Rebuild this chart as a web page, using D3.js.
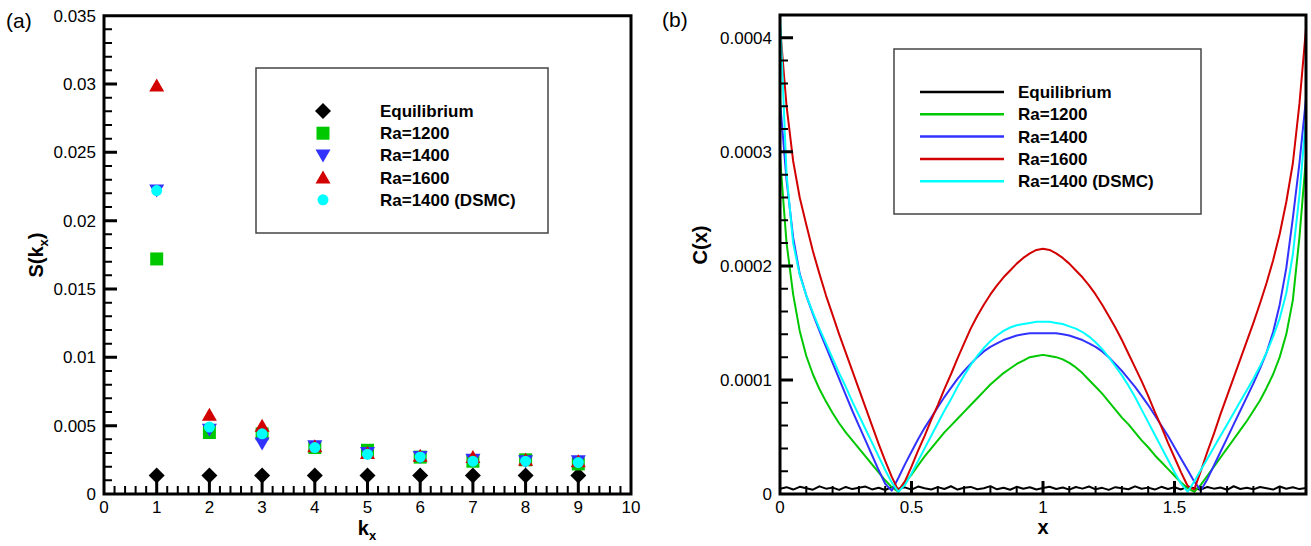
<!DOCTYPE html>
<html><head><meta charset="utf-8">
<script src="https://cdn.jsdelivr.net/npm/d3@7"></script>
<style>
html,body{margin:0;padding:0;background:#fff;}
</style></head>
<body>
<svg id="chart" width="1311" height="546"></svg>
<script>
// ---------- Panel (a) data ----------
const kx = [1, 2, 3, 4, 5, 6, 7, 8, 9];
const sEquilibrium = [0.00135, 0.00135, 0.00135, 0.00135, 0.00135, 0.00135, 0.00135, 0.00135, 0.00135];
const sRa1200 = [0.0172, 0.0045, 0.0044, 0.0034, 0.0032, 0.0027, 0.0024, 0.0025, 0.0022];
const sRa1400 = [0.0222, 0.0047, 0.0037, 0.0035, 0.0030, 0.0027, 0.0025, 0.0024, 0.0024];
const sRa1600 = [0.0299, 0.0058, 0.0050, 0.0035, 0.0030, 0.0028, 0.0027, 0.0025, 0.0024];
const sDSMC   = [0.0222, 0.0049, 0.0044, 0.0034, 0.0029, 0.0027, 0.0024, 0.0024, 0.0023];
const aXTicks = [0,1,2,3,4,5,6,7,8,9,10];
const aXTickLabels = ["0","1","2","3","4","5","6","7","8","9","10"];
const aYTicks = [0, 0.005, 0.01, 0.015, 0.02, 0.025, 0.03, 0.035];
const aYTickLabels = ["0","0.005","0.01","0.015","0.02","0.025","0.03","0.035"];
const legendLabels = ["Equilibrium","Ra=1200","Ra=1400","Ra=1600","Ra=1400 (DSMC)"];

// ---------- Panel (b) data ----------
const xs = [0,0.025,0.05,0.075,0.1,0.125,0.15,0.175,0.2,0.225,0.25,0.275,0.3,0.325,0.35,0.375,0.4,0.425,0.45,0.475,
 0.5,0.525,0.55,0.575,0.6,0.625,0.65,0.675,0.7,0.725,0.75,0.775,0.8,0.825,0.85,0.875,0.9,0.925,0.95,0.975,
 1.0,1.025,1.05,1.075,1.1,1.125,1.15,1.175,1.2,1.225,1.25,1.275,1.3,1.325,1.35,1.375,1.4,1.425,1.45,1.475,
 1.5,1.525,1.55,1.575,1.6,1.625,1.65,1.675,1.7,1.725,1.75,1.775,1.8,1.825,1.85,1.875,1.9,1.925,1.95,1.975,2.0];
const cEquilibrium = [4.6e-6,6.0e-6,3.9e-6,6.3e-6,5.0e-6,3.8e-6,6.7e-6,4.7e-6,5.6e-6,3.6e-6,6.2e-6,4.3e-6,5.4e-6,6.5e-6,4.0e-6,5.5e-6,3.5e-6,6.1e-6,4.7e-6,5.8e-6,
 3.8e-6,6.5e-6,5.1e-6,4.0e-6,6.0e-6,4.4e-6,6.8e-6,3.9e-6,5.4e-6,6.2e-6,4.2e-6,5.0e-6,6.9e-6,4.1e-6,5.5e-6,3.7e-6,6.3e-6,4.6e-6,5.9e-6,4.0e-6,
 5.2e-6,6.4e-6,4.4e-6,5.7e-6,3.8e-6,6.1e-6,4.7e-6,6.6e-6,4.1e-6,5.4e-6,3.6e-6,6.0e-6,5.0e-6,4.2e-6,6.7e-6,4.6e-6,5.6e-6,3.9e-6,6.3e-6,4.4e-6,
 5.9e-6,4.0e-6,6.5e-6,5.1e-6,3.8e-6,6.2e-6,4.7e-6,5.7e-6,3.7e-6,6.8e-6,4.4e-6,5.4e-6,4.1e-6,6.1e-6,5.0e-6,3.9e-6,6.6e-6,4.6e-6,5.9e-6,4.3e-6,5.3e-6];
const cRa1200 = [2.95e-4,2.20e-4,1.75e-4,1.43e-4,1.21e-4,1.05e-4,0.92e-4,0.81e-4,0.71e-4,0.62e-4,0.54e-4,0.47e-4,0.40e-4,0.33e-4,0.26e-4,0.19e-4,0.12e-4,0.06e-4,0.02e-4,0.10e-4,
 0.17e-4,0.25e-4,0.33e-4,0.40e-4,0.47e-4,0.54e-4,0.60e-4,0.66e-4,0.72e-4,0.78e-4,0.84e-4,0.90e-4,0.96e-4,1.01e-4,1.06e-4,1.10e-4,1.14e-4,1.17e-4,1.20e-4,1.21e-4,
 1.22e-4,1.21e-4,1.20e-4,1.18e-4,1.15e-4,1.11e-4,1.06e-4,1.00e-4,0.94e-4,0.88e-4,0.81e-4,0.74e-4,0.67e-4,0.61e-4,0.54e-4,0.47e-4,0.41e-4,0.34e-4,0.28e-4,0.22e-4,
 0.16e-4,0.10e-4,0.05e-4,0.02e-4,0.08e-4,0.16e-4,0.24e-4,0.32e-4,0.40e-4,0.48e-4,0.56e-4,0.64e-4,0.73e-4,0.82e-4,0.93e-4,1.05e-4,1.20e-4,1.40e-4,1.70e-4,2.25e-4,2.95e-4];
const cRa1400 = [3.45e-4,2.75e-4,2.25e-4,1.93e-4,1.74e-4,1.58e-4,1.43e-4,1.29e-4,1.15e-4,1.01e-4,0.87e-4,0.73e-4,0.60e-4,0.47e-4,0.34e-4,0.21e-4,0.09e-4,0.03e-4,0.14e-4,0.26e-4,
 0.37e-4,0.48e-4,0.58e-4,0.67e-4,0.76e-4,0.85e-4,0.93e-4,1.01e-4,1.08e-4,1.14e-4,1.20e-4,1.25e-4,1.29e-4,1.32e-4,1.35e-4,1.37e-4,1.39e-4,1.40e-4,1.41e-4,1.41e-4,
 1.41e-4,1.41e-4,1.41e-4,1.40e-4,1.39e-4,1.37e-4,1.35e-4,1.32e-4,1.29e-4,1.25e-4,1.20e-4,1.14e-4,1.08e-4,1.01e-4,0.94e-4,0.86e-4,0.78e-4,0.69e-4,0.60e-4,0.51e-4,
 0.41e-4,0.31e-4,0.21e-4,0.11e-4,0.03e-4,0.13e-4,0.25e-4,0.37e-4,0.49e-4,0.61e-4,0.73e-4,0.85e-4,0.97e-4,1.10e-4,1.24e-4,1.42e-4,1.66e-4,1.98e-4,2.42e-4,2.90e-4,3.47e-4];
const cRa1600 = [4.10e-4,3.40e-4,2.92e-4,2.60e-4,2.36e-4,2.13e-4,1.93e-4,1.74e-4,1.57e-4,1.40e-4,1.24e-4,1.08e-4,0.92e-4,0.76e-4,0.60e-4,0.44e-4,0.29e-4,0.15e-4,0.03e-4,0.11e-4,
 0.24e-4,0.38e-4,0.51e-4,0.65e-4,0.78e-4,0.92e-4,1.05e-4,1.19e-4,1.32e-4,1.45e-4,1.56e-4,1.66e-4,1.75e-4,1.83e-4,1.90e-4,1.96e-4,2.02e-4,2.07e-4,2.11e-4,2.14e-4,
 2.15e-4,2.14e-4,2.11e-4,2.07e-4,2.02e-4,1.96e-4,1.90e-4,1.83e-4,1.75e-4,1.66e-4,1.56e-4,1.46e-4,1.35e-4,1.23e-4,1.11e-4,0.99e-4,0.86e-4,0.72e-4,0.59e-4,0.45e-4,
 0.32e-4,0.19e-4,0.07e-4,0.04e-4,0.20e-4,0.37e-4,0.53e-4,0.70e-4,0.86e-4,1.02e-4,1.18e-4,1.34e-4,1.50e-4,1.67e-4,1.85e-4,2.05e-4,2.28e-4,2.56e-4,2.90e-4,3.42e-4,4.08e-4];
const cDSMC = [4.20e-4,2.80e-4,2.20e-4,1.92e-4,1.74e-4,1.59e-4,1.45e-4,1.32e-4,1.19e-4,1.06e-4,0.94e-4,0.81e-4,0.69e-4,0.57e-4,0.45e-4,0.33e-4,0.21e-4,0.10e-4,0.02e-4,0.08e-4,
 0.18e-4,0.29e-4,0.40e-4,0.51e-4,0.62e-4,0.73e-4,0.83e-4,0.94e-4,1.04e-4,1.13e-4,1.21e-4,1.28e-4,1.34e-4,1.39e-4,1.43e-4,1.46e-4,1.48e-4,1.49e-4,1.50e-4,1.51e-4,
 1.51e-4,1.51e-4,1.50e-4,1.49e-4,1.47e-4,1.45e-4,1.42e-4,1.38e-4,1.33e-4,1.27e-4,1.20e-4,1.12e-4,1.04e-4,0.95e-4,0.85e-4,0.74e-4,0.63e-4,0.52e-4,0.41e-4,0.30e-4,
 0.19e-4,0.09e-4,0.02e-4,0.11e-4,0.21e-4,0.31e-4,0.41e-4,0.51e-4,0.61e-4,0.71e-4,0.81e-4,0.91e-4,1.01e-4,1.12e-4,1.24e-4,1.38e-4,1.54e-4,1.76e-4,2.10e-4,2.62e-4,3.30e-4];
const bXTicks = [0, 0.5, 1, 1.5];
const bXTickLabels = ["0","0.5","1","1.5"];
const bYTicks = [0, 0.0001, 0.0002, 0.0003, 0.0004];
const bYTickLabels = ["0","0.0001","0.0002","0.0003","0.0004"];
const xAMinor = [0.2,0.4,0.6,0.8,1.2,1.4,1.6,1.8,2.2,2.4,2.6,2.8,3.2,3.4,3.6,3.8,4.2,4.4,4.6,4.8,
  5.2,5.4,5.6,5.8,6.2,6.4,6.6,6.8,7.2,7.4,7.6,7.8,8.2,8.4,8.6,8.8,9.2,9.4,9.6,9.8];
const yAMinor = [0.001,0.002,0.003,0.004,0.006,0.007,0.008,0.009,0.011,0.012,0.013,0.014,0.016,0.017,0.018,0.019,
  0.021,0.022,0.023,0.024,0.026,0.027,0.028,0.029,0.031,0.032,0.033,0.034];
const xBMinor = [0.1,0.2,0.3,0.4,0.6,0.7,0.8,0.9,1.1,1.2,1.3,1.4,1.6,1.7,1.8,1.9];
const yBMinor = [0.00002,0.00004,0.00006,0.00008,0.00012,0.00014,0.00016,0.00018,
  0.00022,0.00024,0.00026,0.00028,0.00032,0.00034,0.00036,0.00038];

const colors = ["#000000", "#00c800", "#3232ff", "#d20000", "#00ffff"];

// ---------- drawing ----------
const svg = d3.select("#chart");
const FONT = "Liberation Sans, Arial, Helvetica, sans-serif";

// frame + major ticks in ONE path; minor ticks in a second path
function drawFrame(g, sx, sy, xMajor, xMinor, yMajor, yMinor, xLabels, yLabels) {
  const X0 = sx.range()[0], X1 = sx.range()[1], Y0 = sy.range()[0], Y1 = sy.range()[1];
  let d = `M${X0},${Y1}H${X1}V${Y0}H${X0}Z`;
  xMajor.forEach(v => { d += `M${sx(v)},${Y0}V${Y0 - 13}`; });
  yMajor.forEach(v => { d += `M${X0},${sy(v)}H${X0 + 13}`; });
  g.append("path").attr("d", d).attr("fill", "none").attr("stroke", "#000").attr("stroke-width", 3);
  let dm = "";
  xMinor.forEach(v => { dm += `M${sx(v)},${Y0}V${Y0 - 8}`; });
  yMinor.forEach(v => { dm += `M${X0},${sy(v)}H${X0 + 8}`; });
  g.append("path").attr("d", dm).attr("fill", "none").attr("stroke", "#000").attr("stroke-width", 2);
  xMajor.forEach((v, i) => {
    g.append("text").attr("x", sx(v)).attr("y", Y0 + 19).attr("text-anchor", "middle")
      .attr("font-size", 17).attr("font-family", FONT).text(xLabels[i]);
  });
  yMajor.forEach((v, i) => {
    g.append("text").attr("x", X0 - 8).attr("y", sy(v) + 6).attr("text-anchor", "end")
      .attr("font-size", 17).attr("font-family", FONT).text(yLabels[i]);
  });
}

// ===== Panel (a) =====
const gA = svg.append("g");
const xA = d3.scaleLinear().domain([0, 10]).range([104, 631]);
const yA = d3.scaleLinear().domain([0, 0.035]).range([494, 15.7]);

const markerPath = {
  diamond: (cx, cy) => `M${cx},${cy-8}L${cx+8},${cy}L${cx},${cy+8}L${cx-8},${cy}Z`,
  square: (cx, cy) => `M${cx-6.5},${cy-6.5}h13v13h-13Z`,
  tdown: (cx, cy) => `M${cx-7.5},${cy-6}L${cx+7.5},${cy-6}L${cx},${cy+7}Z`,
  tup: (cx, cy) => `M${cx-7.5},${cy+6}L${cx+7.5},${cy+6}L${cx},${cy-7}Z`,
};
const aSeries = [
  {vals: sEquilibrium, shape: "diamond", color: colors[0]},
  {vals: sRa1200, shape: "square", color: colors[1]},
  {vals: sRa1400, shape: "tdown", color: colors[2]},
  {vals: sRa1600, shape: "tup", color: colors[3]},
  {vals: sDSMC, shape: "circle", color: colors[4]},
];

drawFrame(gA, xA, yA, aXTicks, xAMinor, aYTicks, yAMinor, aXTickLabels, aYTickLabels);

function drawMarker(g, shape, cx, cy, color) {
  if (shape === "circle") {
    g.append("circle").attr("cx", cx).attr("cy", cy).attr("r", 5.5).attr("fill", color);
  } else {
    g.append("path").attr("d", markerPath[shape](cx, cy)).attr("fill", color);
  }
}
aSeries.forEach(s => {
  const mg = gA.append("g");
  kx.forEach((k, i) => drawMarker(mg, s.shape, xA(k), yA(s.vals[i]), s.color));
});

// legend (a)
gA.append("rect").attr("x", 256).attr("y", 68).attr("width", 292).attr("height", 165)
  .attr("fill", "#fff").attr("stroke", "#444").attr("stroke-width", 1.5);
aSeries.forEach((s, i) => {
  const cy = 111 + i * 22.2;
  drawMarker(gA, s.shape, 323, cy, s.color);
  gA.append("text").attr("x", 380).attr("y", cy + 6).attr("font-size", 17).attr("font-weight", "bold")
    .attr("font-family", FONT).text(legendLabels[i]);
});

// titles (a)
const kt = gA.append("text").attr("x", 367).attr("y", 535).attr("text-anchor", "middle")
  .attr("font-size", 20).attr("font-weight", "bold").attr("font-family", FONT);
kt.append("tspan").text("k");
kt.append("tspan").attr("font-size", 13).attr("dy", 5).text("x");
const st = gA.append("text").attr("transform", "translate(43,255) rotate(-90)").attr("text-anchor", "middle")
  .attr("font-size", 20).attr("font-weight", "bold").attr("font-family", FONT);
st.append("tspan").text("S(k");
st.append("tspan").attr("font-size", 13).attr("dy", 5).text("x");
st.append("tspan").attr("dy", -5).text(")");
gA.append("text").attr("x", 6).attr("y", 28).attr("font-size", 21).attr("font-family", FONT).text("(a)");

// ===== Panel (b) =====
const gB = svg.append("g");
const xB = d3.scaleLinear().domain([0, 2]).range([780, 1306]);
const yB = d3.scaleLinear().domain([0, 0.00042]).range([494, 15]);

gB.append("clipPath").attr("id", "clipB").append("rect")
  .attr("x", 780).attr("y", 15).attr("width", 526).attr("height", 479);

const bSeries = [cEquilibrium, cRa1200, cRa1400, cRa1600, cDSMC];
const line = d3.line().x((d, i) => xB(xs[i])).y(d => yB(d));
const lg = gB.append("g").attr("clip-path", "url(#clipB)");
bSeries.forEach((vals, i) => {
  lg.append("path").datum(vals).attr("d", line).attr("fill", "none")
    .attr("stroke", colors[i]).attr("stroke-width", 2).attr("stroke-linejoin", "round");
});

drawFrame(gB, xB, yB, bXTicks, xBMinor, bYTicks, yBMinor, bXTickLabels, bYTickLabels);

// legend (b)
gB.append("rect").attr("x", 894).attr("y", 49).attr("width", 307).attr("height", 165)
  .attr("fill", "#fff").attr("stroke", "#444").attr("stroke-width", 1.5);
legendLabels.forEach((lab, i) => {
  const cy = 92 + i * 22.3;
  gB.append("line").attr("x1", 920).attr("x2", 1004).attr("y1", cy).attr("y2", cy)
    .attr("stroke", colors[i]).attr("stroke-width", 2.5);
  gB.append("text").attr("x", 1018).attr("y", cy + 6).attr("font-size", 17).attr("font-weight", "bold")
    .attr("font-family", FONT).text(lab);
});

gB.append("text").attr("x", 1043).attr("y", 534).attr("text-anchor", "middle")
  .attr("font-size", 20).attr("font-weight", "bold").attr("font-family", FONT).text("x");
gB.append("text").attr("transform", "translate(707,245) rotate(-90)").attr("text-anchor", "middle")
  .attr("font-size", 20).attr("font-weight", "bold").attr("font-family", FONT).text("C(x)");
gB.append("text").attr("x", 662).attr("y", 27).attr("font-size", 21).attr("font-family", FONT).text("(b)");
</script>
</body></html>
